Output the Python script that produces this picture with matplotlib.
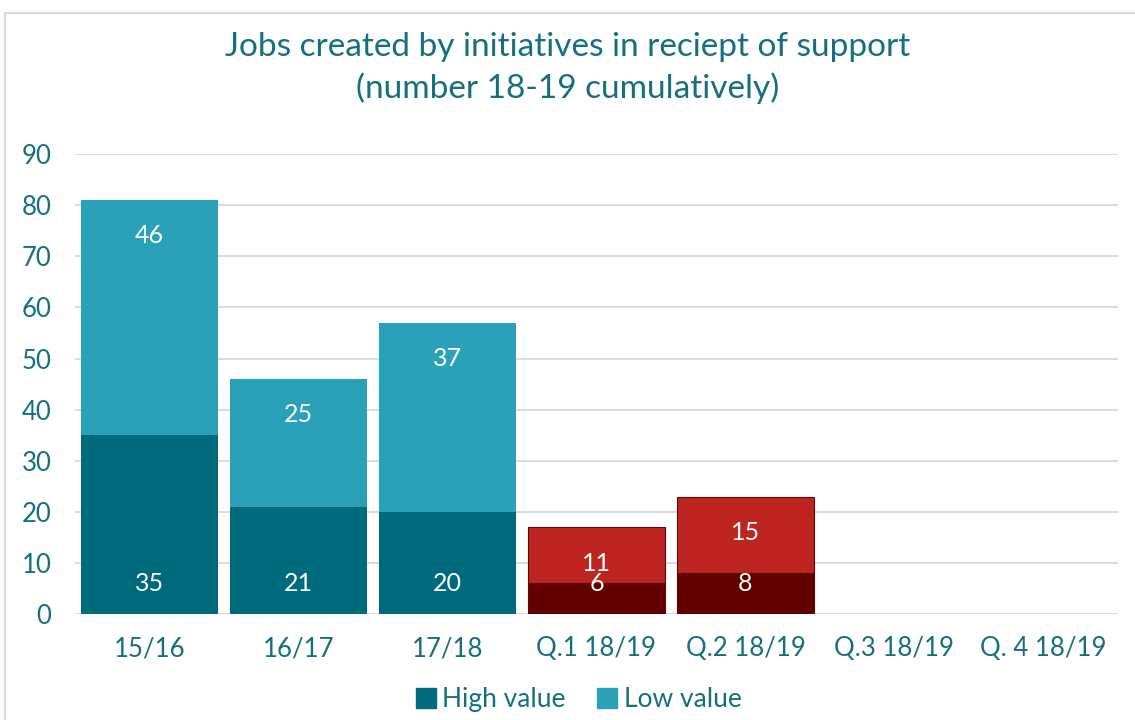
import numpy as np
import matplotlib.pyplot as plt
from matplotlib.patches import Patch, Rectangle

categories = ['15/16', '16/17', '17/18', 'Q.1 18/19', 'Q.2 18/19', 'Q.3 18/19', 'Q. 4 18/19']
high_value = [35, 21, 20, 6, 8, 0, 0]
low_value = [46, 25, 37, 11, 15, 0, 0]
is_quarter = [False, False, False, True, True, True, True]

teal_dark = '#006A7D'
teal_light = '#2AA1B8'
red_dark = '#620000'
red_light = '#BE2521'
text_col = '#14707F'

plt.rcParams['font.family'] = ['Lato', 'DejaVu Sans']

fig = plt.figure(figsize=(11.35, 7.2), dpi=100)
ax = fig.add_axes([0.066, 0.147, 0.919, 0.639])

x = np.arange(len(categories))
w = 0.92
hi_cols = [red_dark if q else teal_dark for q in is_quarter]
lo_cols = [red_light if q else teal_light for q in is_quarter]
edges = ['#5a0a0a' if (q and h + l > 0) else 'none'
         for q, h, l in zip(is_quarter, high_value, low_value)]

ax.bar(x, high_value, w, color=hi_cols, edgecolor=edges, linewidth=0.8, zorder=3)
ax.bar(x, low_value, w, bottom=high_value, color=lo_cols, edgecolor=edges, linewidth=0.8, zorder=3)

for i in range(len(categories)):
    if high_value[i] + low_value[i] == 0:
        continue
    ax.text(x[i], 6.0, str(high_value[i]), ha='center', va='center',
            color='white', fontsize=18, zorder=4)
    ax.text(x[i], high_value[i] + low_value[i] - 7, str(low_value[i]), ha='center',
            va='center', color='white', fontsize=18, zorder=4)

ax.set_ylim(0, 90)
ax.set_xlim(-0.5, len(categories) - 0.5)
ax.set_yticks(range(0, 91, 10))
ax.yaxis.grid(True, color='#d9d9d9', linewidth=1.3, zorder=0)
ax.set_xticks(x)
ax.set_xticklabels(categories)
ax.tick_params(axis='both', length=0, labelsize=18.5, colors=text_col)
ax.tick_params(axis='x', pad=16)
ax.tick_params(axis='y', pad=17)
for s in ax.spines.values():
    s.set_visible(False)

fig.text(0.5, 0.935, 'Jobs created by initiatives in reciept of support',
         ha='center', va='center', fontsize=24, color=text_col)
fig.text(0.5, 0.878, '(number 18-19 cumulatively)',
         ha='center', va='center', fontsize=24, color=text_col)

handles = [Patch(color=teal_dark), Patch(color=teal_light)]
fig.legend(handles, ['High value', 'Low value'], loc='center', bbox_to_anchor=(0.51, 0.028),
           ncol=2, frameon=False, fontsize=19, labelcolor=text_col,
           handlelength=0.75, handleheight=0.75, handletextpad=0.25, columnspacing=1.2)

fig.patches.append(Rectangle((0.004, -0.01), 1.1, 0.992, transform=fig.transFigure,
                             fill=False, edgecolor='#d9d9d9', linewidth=1.5))

fig.savefig('out.png', dpi=100)
